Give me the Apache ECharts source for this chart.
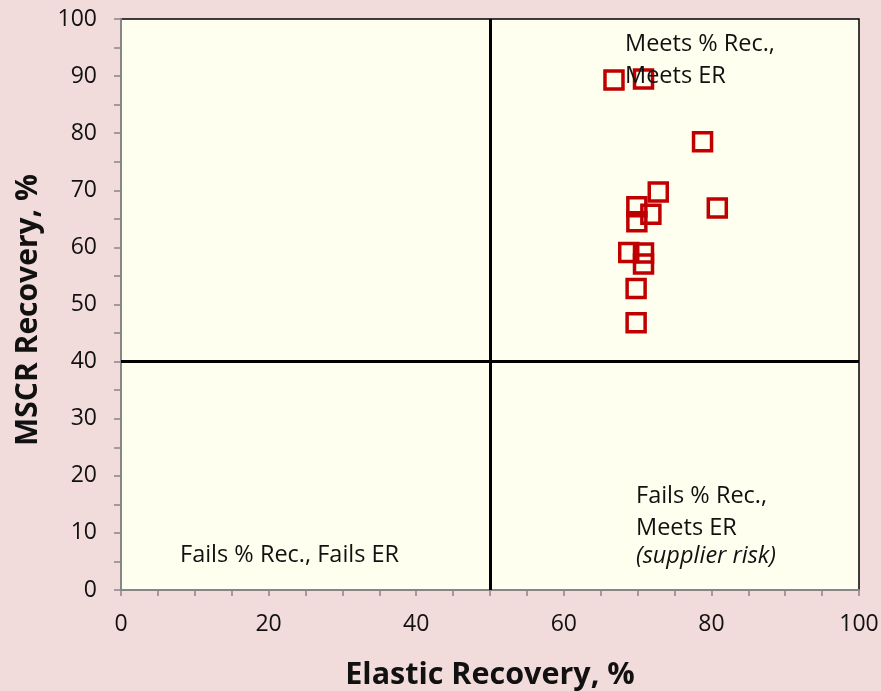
<!DOCTYPE html>
<html>
<head>
<meta charset="utf-8">
<script src="https://cdn.jsdelivr.net/npm/echarts@6/dist/echarts.min.js"></script>
<style>
html,body{margin:0;padding:0;background:#F2DCDB;}
#c{width:881px;height:691px;}
</style>
</head>
<body>
<div id="c"></div>
<script>
// Data
const elasticRecovery = [66.8, 70.8, 78.8, 72.8, 80.8, 69.9, 69.9, 71.8, 68.8, 70.8, 70.8, 69.8, 69.8];
const mscrRecovery    = [89.3, 89.5, 78.5, 69.7, 66.9, 67.1, 64.5, 65.8, 59.1, 59.0, 57.1, 52.8, 46.8];
const xThreshold = 50;
const yThreshold = 40;
const xTicks = [0, 20, 40, 60, 80, 100];
const yTicks = [0, 10, 20, 30, 40, 50, 60, 70, 80, 90, 100];
const xTitle = 'Elastic Recovery, %';
const yTitle = 'MSCR Recovery, %';

const FONT = '"Open Sans", "Liberation Sans", sans-serif';
const chart = echarts.init(document.getElementById('c'));
const points = elasticRecovery.map((x, i) => [x, mscrRecovery[i]]);

chart.setOption({
  backgroundColor: '#F2DCDB',
  animation: false,
  grid: {
    left: 121, right: 22, top: 19, bottom: 101,
    outerBoundsMode: 'none', containLabel: false,
    show: true, backgroundColor: '#FFFFEF', borderColor: '#000', borderWidth: 1.5
  },
  xAxis: {
    type: 'value', min: 0, max: 100, interval: 5,
    name: xTitle, nameLocation: 'middle', nameGap: 70,
    nameTextStyle: { fontFamily: FONT, fontWeight: 'bold', fontSize: 30.5, color: '#111' },
    axisLine: { show: true, lineStyle: { color: '#868686', width: 2 } },
    axisTick: { show: true, length: 6, lineStyle: { color: '#868686', width: 1.5 } },
    axisLabel: {
      fontFamily: FONT, fontSize: 23, color: '#111', margin: 23,
      formatter: v => (xTicks.includes(v) ? String(v) : '')
    },
    splitLine: { show: false }
  },
  yAxis: {
    type: 'value', min: 0, max: 100, interval: 5,
    axisLine: { show: true, lineStyle: { color: '#868686', width: 2 } },
    axisTick: { show: true, length: 7, lineStyle: { color: '#868686', width: 1.5 } },
    axisLabel: {
      fontFamily: FONT, fontSize: 23, color: '#111', margin: 24,
      formatter: v => (yTicks.includes(v) ? String(v) : '')
    },
    splitLine: { show: false }
  },
  series: [{
    type: 'scatter',
    data: points,
    symbol: 'rect',
    symbolSize: 18,
    itemStyle: { color: 'rgba(0,0,0,0)', borderColor: '#C00000', borderWidth: 3.5, opacity: 1 },
    markLine: {
      silent: true, symbol: 'none', label: { show: false },
      lineStyle: { color: '#000', width: 3, type: 'solid' },
      data: [{ xAxis: xThreshold }, { yAxis: yThreshold }]
    },
    z: 5
  }],
  graphic: [
    { type: 'text', x: 28, y: 310, rotation: Math.PI / 2,
      style: { text: yTitle, font: 'bold 30px ' + FONT, fill: '#111', align: 'center', verticalAlign: 'middle' }, z: 10 },
    { type: 'text', left: 625, top: 28, style: { text: 'Meets % Rec.,\nMeets ER', font: '23.5px ' + FONT, fill: '#111', lineHeight: 32 }, z: 10 },
    { type: 'text', left: 636, top: 480, style: { text: 'Fails % Rec.,\nMeets ER', font: '23.5px ' + FONT, fill: '#111', lineHeight: 32 }, z: 10 },
    { type: 'text', left: 636, top: 545, style: { text: '(supplier risk)', font: 'italic 23.5px ' + FONT, fill: '#111' }, z: 10 },
    { type: 'text', left: 180, top: 543, style: { text: 'Fails % Rec., Fails ER', font: '23.5px ' + FONT, fill: '#111' }, z: 10 }
  ]
});
</script>
</body>
</html>
